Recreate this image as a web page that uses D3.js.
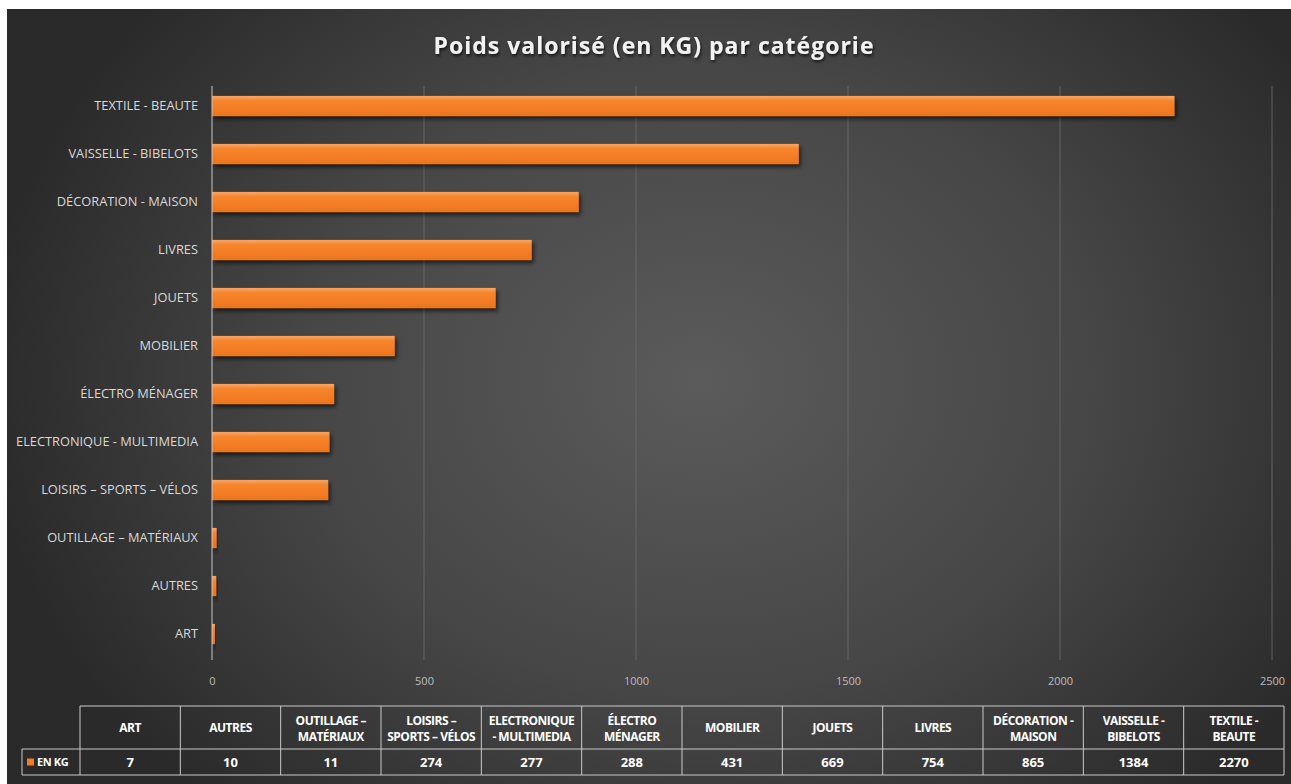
<!DOCTYPE html>
<html><head><meta charset="utf-8">
<script src="https://cdn.jsdelivr.net/npm/d3@7/dist/d3.min.js"></script>
<style>html,body{margin:0;padding:0;background:#fff;}svg{display:block;}</style>
</head><body>
<script>
// ---- data ----
const categories = ["ART","AUTRES","OUTILLAGE – MATÉRIAUX","LOISIRS – SPORTS – VÉLOS","ELECTRONIQUE - MULTIMEDIA","ÉLECTRO MÉNAGER","MOBILIER","JOUETS","LIVRES","DÉCORATION - MAISON","VAISSELLE - BIBELOTS","TEXTILE - BEAUTE"];
const values = [7,10,11,274,277,288,431,669,754,865,1384,2270];
const tableHeaders = [["ART"],["AUTRES"],["OUTILLAGE –","MATÉRIAUX"],["LOISIRS –","SPORTS – VÉLOS"],["ELECTRONIQUE","- MULTIMEDIA"],["ÉLECTRO","MÉNAGER"],["MOBILIER"],["JOUETS"],["LIVRES"],["DÉCORATION -","MAISON"],["VAISSELLE -","BIBELOTS"],["TEXTILE -","BEAUTE"]];
const xTicks = [0,500,1000,1500,2000,2500];
const seriesName = "EN KG";
const title = "Poids valorisé (en KG) par catégorie";

const W = 1291, H = 784;
const svg = d3.select("body").append("svg").attr("width", W).attr("height", H);
const defs = svg.append("defs");
const rg = defs.append("radialGradient").attr("id","bg").attr("gradientUnits","userSpaceOnUse")
  .attr("cx",700).attr("cy",380).attr("r",720).attr("gradientTransform","translate(700,380) scale(1,0.8) translate(-700,-380)");
rg.append("stop").attr("offset","0%").attr("stop-color","#5b5b5b");
rg.append("stop").attr("offset","55%").attr("stop-color","#464646");
rg.append("stop").attr("offset","100%").attr("stop-color","#2a2a2a");
const bg = defs.append("linearGradient").attr("id","bar").attr("x1",0).attr("y1",0).attr("x2",0).attr("y2",1);
bg.append("stop").attr("offset","0%").attr("stop-color","#f9a763");
bg.append("stop").attr("offset","25%").attr("stop-color","#f6852e");
bg.append("stop").attr("offset","100%").attr("stop-color","#ef741a");
const f = defs.append("filter").attr("id","sh").attr("x","-10%").attr("y","-50%").attr("width","130%").attr("height","250%");
f.append("feDropShadow").attr("dx",2).attr("dy",3).attr("stdDeviation",2).attr("flood-color","#000").attr("flood-opacity",0.6);
const tf = defs.append("filter").attr("id","tsh").attr("x","-5%").attr("y","-30%").attr("width","110%").attr("height","160%");
tf.append("feDropShadow").attr("dx",1).attr("dy",2).attr("stdDeviation",1.5).attr("flood-color","#000").attr("flood-opacity",0.7);

svg.append("rect").attr("x",7).attr("y",9).attr("width",W-7).attr("height",H-9).attr("fill","url(#bg)");

// title
svg.append("text").attr("x",654).attr("y",54).attr("text-anchor","middle")
  .attr("font-family","Open Sans, sans-serif").attr("font-weight","bold").attr("font-size",23)
  .attr("letter-spacing",1).attr("fill","#f2f2f2").attr("filter","url(#tsh)").text(title);

// scales
const x = d3.scaleLinear().domain([0,2500]).range([212,1272]);
const y = d3.scaleBand().domain(categories.slice().reverse()).range([82,658]).paddingInner(0.58).paddingOuter(0.29);

// gridlines
svg.append("g").selectAll("line").data(xTicks.slice(1)).join("line")
  .attr("x1",d=>x(d)).attr("x2",d=>x(d)).attr("y1",86).attr("y2",660)
  .attr("stroke","#6a6a6a").attr("stroke-width",1.2).attr("stroke-opacity",0.75);

// bars
svg.append("g").selectAll("rect").data(categories).join("rect")
  .attr("x",x(0)).attr("y",d=>y(d)).attr("height",y.bandwidth())
  .attr("width",(d,i)=>x(values[i])-x(0)).attr("fill","url(#bar)").attr("filter","url(#sh)");

// y axis
const yAxis = svg.append("g").attr("transform",`translate(${x(0)},0)`).call(d3.axisLeft(y).tickSize(0).tickPadding(14));
yAxis.select(".domain").attr("stroke","#c8c8c8").attr("stroke-width",1).attr("d","M0,86V660");
yAxis.selectAll("text").attr("font-family","Open Sans, sans-serif").attr("font-size",12.8).attr("fill","#d9d9d9");

// x axis tick labels
const xAxis = svg.append("g").attr("transform","translate(0,660)").call(d3.axisBottom(x).tickValues(xTicks).tickFormat(d3.format("d")).tickSize(0).tickPadding(17));
xAxis.select(".domain").remove();
xAxis.selectAll("text").attr("font-family","Open Sans, sans-serif").attr("font-size",11).attr("fill","#bdbdbd");

// data table
const tx = d3.scaleBand().domain(categories).range([80,1284]);
const tTop = 706, tMid = 749, tBot = 775;
const tg = svg.append("g");
const lc = "#c9c9c9";
tg.append("line").attr("x1",80).attr("x2",1284).attr("y1",tTop).attr("y2",tTop).attr("stroke",lc);
tg.append("line").attr("x1",22).attr("x2",1284).attr("y1",tMid).attr("y2",tMid).attr("stroke",lc);
tg.append("line").attr("x1",22).attr("x2",1284).attr("y1",tBot).attr("y2",tBot).attr("stroke",lc);
tg.append("line").attr("x1",22).attr("x2",22).attr("y1",tMid).attr("y2",tBot).attr("stroke",lc);
tg.selectAll("line.v").data(categories.concat(["end"])).join("line").attr("class","v")
  .attr("x1",(d,i)=>80+i*tx.bandwidth()).attr("x2",(d,i)=>80+i*tx.bandwidth())
  .attr("y1",tTop).attr("y2",tBot).attr("stroke",lc);
const font = "Open Sans, sans-serif";
categories.forEach((c,i)=>{
  const cx = tx(c)+tx.bandwidth()/2;
  const lines = tableHeaders[i];
  const t = tg.append("text").attr("text-anchor","middle").attr("font-family",font).attr("font-weight","bold")
    .attr("font-size",12).attr("fill","#ffffff").attr("letter-spacing",-0.5);
  if(lines.length===1){
    t.append("tspan").attr("x",cx).attr("y",(tTop+tMid)/2+4).text(lines[0]);
  } else {
    t.append("tspan").attr("x",cx).attr("y",(tTop+tMid)/2-3).text(lines[0]);
    t.append("tspan").attr("x",cx).attr("y",(tTop+tMid)/2+13).text(lines[1]);
  }
  tg.append("text").attr("x",cx).attr("y",(tMid+tBot)/2+4.5).attr("text-anchor","middle").attr("font-family",font)
    .attr("font-weight","bold").attr("font-size",13).attr("fill","#ffffff").text(values[i]);
});
tg.append("rect").attr("x",27).attr("y",(tMid+tBot)/2-3.5).attr("width",7).attr("height",7).attr("fill","#f47b20");
tg.append("text").attr("x",37).attr("y",(tMid+tBot)/2+4).attr("font-family",font).attr("font-weight","bold")
  .attr("font-size",11).attr("fill","#fff").attr("letter-spacing",-0.4).text(seriesName);
</script>
</body></html>
